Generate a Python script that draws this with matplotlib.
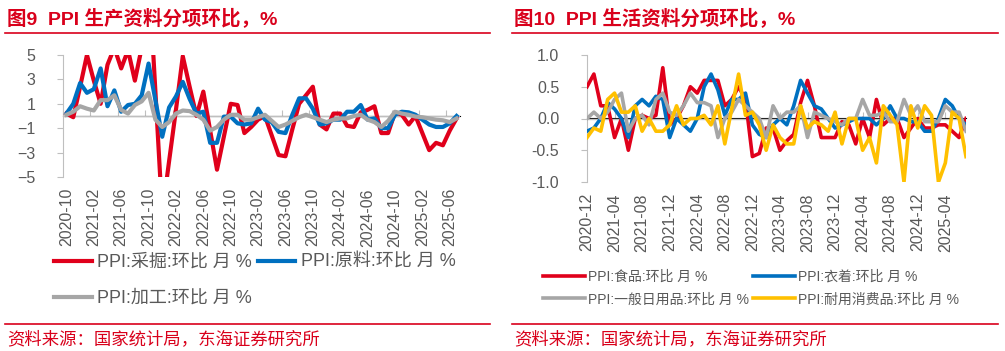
import matplotlib
matplotlib.use('Agg')
import matplotlib.pyplot as plt
import numpy as np
import pandas as pd

plt.rcParams['font.family'] = ['Liberation Sans', 'Noto Sans CJK SC']

RED = '#D9001B'
TXT = '#595959'
AXC = '#BFBFBF'

# ---- 图9 PPI 生产资料分项环比 (2020-10 .. 2025-07)
months_l = pd.period_range('2020-10', '2025-07', freq='M').strftime('%Y-%m').tolist()
mining = [0.2, -0.1, 2.4, 5.0, 2.9, 1.0, 4.2, 5.6, 3.9, 5.4, 2.9, 5.6, 12.0, 2.0, -8.0,
          -3.7, 0.5, 4.9, 2.4, 0.0, 2.0, -1.2, -4.4, -1.7, 1.0, 0.9, -1.4, -0.9, -0.3,
          0.0, -1.6, -3.2, -3.3, -1.1, 1.0, 1.7, 2.4, -0.7, -1.1, 0.2, 0.2, -0.8, -0.9,
          0.3, 0.5, 0.8, -1.4, -1.4, 0.3, 0.1, -0.7, 0.0, -1.4, -2.8, -2.2, -2.4, -1.2, -0.2]
raw = [0.2, 1.0, 2.7, 1.9, 2.2, 3.9, 0.8, 2.1, 0.35, 0.9, 1.0, 1.7, 4.3, 1.3, -1.7,
       0.7, 1.6, 2.8, 1.4, 0.2, 0.35, -2.2, -2.2, -0.05, -0.05, -0.6, -0.7, -0.6, 0.6,
       -0.3, -0.5, -1.3, -1.4, 0.1, 1.45, 1.45, 0.6, -0.7, -0.6, -0.3, -0.3, 0.35, 0.35,
       0.9, -0.3, -0.2, -1.0, -1.0, 0.1, 0.35, 0.3, 0.1, -0.3, -0.7, -0.9, -0.9, -0.6, 0.0]
process = [0.1, 0.35, 0.8, 0.6, 0.45, 1.3, 1.3, 1.7, 0.5, 0.2, 0.9, 1.2, 1.9, -0.3, -0.9,
           -0.5, 0.2, 0.45, 0.4, 0.1, -0.3, -1.2, -0.9, -0.3, 0.1, 0.1, -0.3, -0.3, -0.1,
           0.1, -0.4, -0.9, -0.7, -0.4, -0.1, 0.1, -0.1, -0.3, -0.5, -0.3, -0.2, -0.2, 0.0,
           0.1, -0.3, -0.5, -0.9, -0.4, 0.35, 0.2, 0.1, -0.05, -0.1, -0.2, -0.3, -0.35, -0.5, -0.2]

# ---- 图10 PPI 生活资料分项环比 (2020-12 .. 2025-07)
months_r = pd.period_range('2020-12', '2025-07', freq='M').strftime('%Y-%m').tolist()
food = [0.5, 0.7, 0.2, 0.2, -0.3, 0.0, -0.5, 0.0, 0.05, 0.0, 0.05, 0.8, -0.1, 0.0, 0.2,
        0.5, 0.4, 0.6, 0.6, 0.6, 0.2, 0.3, 0.5, 0.3, -0.6, -0.55, -0.15, -0.15, -0.5, -0.35,
        -0.25, 0.25, 0.6, 0.2, -0.3, -0.3, -0.3, -0.05, -0.1, -0.4, 0.0, -0.3, 0.3, -0.1,
        0.0, 0.0, -0.3, -0.15, 0.0, -0.15, -0.15, -0.1, -0.1, -0.2, -0.3, 0.0]
clothing = [-0.2, -0.15, 0.0, 0.25, 0.15, 0.0, -0.3, 0.2, 0.3, 0.2, 0.35, 0.3, -0.3, 0.0,
            -0.1, -0.2, 0.0, 0.5, 0.7, 0.45, 0.05, 0.3, 0.3, 0.4, -0.1, -0.25, -0.3, -0.1,
            0.0, -0.1, 0.2, 0.6, 0.4, 0.2, 0.15, 0.0, -0.15, -0.1, -0.05, 0.0, 0.0, 0.0,
            -0.1, 0.0, 0.2, 0.0, 0.0, -0.05, -0.05, -0.2, -0.2, 0.0, 0.3, 0.2, 0.0, -0.1]
daily = [0.0, 0.1, 0.0, 0.1, 0.3, 0.4, -0.2, 0.0, 0.05, -0.1, 0.3, 0.4, 0.1, 0.05, 0.2,
         0.4, 0.25, 0.25, 0.2, -0.3, 0.0, 0.1, 0.3, 0.2, 0.1, 0.0, -0.3, 0.2, 0.0, 0.1,
         0.1, 0.2, -0.3, 0.1, 0.05, 0.0, -0.05, -0.1, 0.0, 0.0, 0.3, 0.05, 0.05, 0.1,
         -0.05, -0.05, 0.3, 0.05, 0.2, -0.05, -0.05, -0.05, 0.2, 0.1, 0.1, -0.2]
durable = [-0.3, -0.15, -0.2, 0.3, 0.4, 0.1, 0.1, 0.2, -0.2, 0.0, -0.2, -0.2, -0.1, 0.2,
           -0.1, 0.0, 0.0, 0.05, -0.1, 0.2, -0.4, 0.15, 0.7, 0.05, 0.1, -0.1, -0.5, -0.1,
           -0.3, -0.4, -0.4, 0.2, -0.15, -0.05, -0.1, -0.2, 0.1, -0.4, 0.0, 0.0, -0.5, -0.3,
           -0.7, 0.2, 0.05, -0.1, -1.0, 0.2, -0.15, 0.2, 0.05, -1.0, -0.7, 0.1, 0.0, -0.6]

fig = plt.figure(figsize=(10.05, 3.51), dpi=100)
W, H = 1005, 351


def fx(px):
    return px / W


def fy(py):
    return 1 - py / H


def panel_frame(x0, x1, title):
    fig.text(fx(x0 + 2), fy(18), title, color=RED, fontsize=14, fontweight='bold',
             va='center', ha='left')
    fig.add_artist(plt.Line2D([fx(x0), fx(x1)], [fy(33), fy(33)], color=RED, lw=1.2))
    fig.add_artist(plt.Line2D([fx(x0), fx(x1)], [fy(324), fy(324)], color=RED, lw=1.2))
    fig.text(fx(x0 + 2), fy(339), '资料来源：国家统计局，东海证券研究所', color=RED,
             fontsize=12.5, va='center', ha='left')


def style_axes(ax, n, between):
    for s in ['top', 'right', 'bottom']:
        ax.spines[s].set_visible(False)
    ax.spines['left'].set_color(AXC)
    ax.tick_params(axis='y', colors=TXT, labelsize=11.5, length=4, color=AXC, pad=16)
    ax.axhline(0, color=AXC, lw=1, zorder=1)
    if between:
        ax.set_xlim(-0.5, n - 0.5)
    else:
        ax.set_xlim(0, n - 1)
    sec = ax.secondary_xaxis(0.5)
    sec.spines['bottom'].set_visible(False)
    sec.set_xticks(np.arange(-0.5 if between else 0, n, 4))
    sec.xaxis.set_major_formatter(matplotlib.ticker.NullFormatter())
    sec.tick_params(axis='x', length=4, color=AXC)


panel_frame(5, 490, '图9  PPI 生产资料分项环比，%')
panel_frame(512, 998, '图10  PPI 生活资料分项环比，%')

# left chart
axl = fig.add_axes([fx(63), fy(177), fx(460 - 63), (177 - 55) / H])
xl = np.arange(len(months_l))
l1, = axl.plot(xl, mining, color='#E0001B', lw=3, label='PPI:采掘:环比 月 %', zorder=3)
l2, = axl.plot(xl, raw, color='#0070C0', lw=3, label='PPI:原料:环比 月 %', zorder=4)
l3, = axl.plot(xl, process, color='#A6A6A6', lw=3, label='PPI:加工:环比 月 %', zorder=5)
axl.set_ylim(-5, 5)
axl.set_yticks([5, 3, 1, -1, -3, -5])
style_axes(axl, len(months_l), True)
axl.set_xticks(xl[::4])
axl.set_xticklabels(months_l[::4], rotation=90)
axl.tick_params(axis='x', length=0, colors=TXT, labelsize=11.5, pad=8)
# legend filled column by column, so order for row-wise reading
axl.legend(handles=[l1, l3, l2], loc='upper left', bbox_to_anchor=(fx(54), fy(254)),
           bbox_transform=fig.transFigure, ncol=2, frameon=False, fontsize=13,
           handlelength=2.1, handletextpad=0.3, columnspacing=0.3, labelspacing=1.05,
           borderpad=0, borderaxespad=0, labelcolor=TXT)

# right chart
axr = fig.add_axes([fx(587), fy(182), fx(966 - 587), (182 - 55) / H])
xr = np.arange(len(months_r))
r1, = axr.plot(xr, food, color='#E0001B', lw=2.6, label='PPI:食品:环比 月 %', zorder=3)
r2, = axr.plot(xr, clothing, color='#0070C0', lw=2.6, label='PPI:衣着:环比 月 %', zorder=4)
r3, = axr.plot(xr, daily, color='#A6A6A6', lw=2.6, label='PPI:一般日用品:环比 月 %', zorder=5)
r4, = axr.plot(xr, durable, color='#FFC000', lw=2.6, label='PPI:耐用消费品:环比 月 %', zorder=6)
axr.set_ylim(-1, 1)
axr.set_yticks([1, 0.5, 0, -0.5, -1])
axr.yaxis.set_major_formatter(matplotlib.ticker.FormatStrFormatter('%.1f'))
style_axes(axr, len(months_r), False)
axr.set_xticks(xr[::4])
axr.set_xticklabels(months_r[::4], rotation=90)
axr.tick_params(axis='x', length=0, colors=TXT, labelsize=11.5, pad=8)
axr.legend(handles=[r1, r3, r2, r4], loc='upper left', bbox_to_anchor=(fx(543), fy(270)),
           bbox_transform=fig.transFigure, ncol=2, frameon=False, fontsize=10,
           handlelength=3.0, handletextpad=0.25, columnspacing=0.3, labelspacing=0.6,
           borderpad=0, borderaxespad=0, labelcolor=TXT)

fig.savefig('out.png', dpi=100)
